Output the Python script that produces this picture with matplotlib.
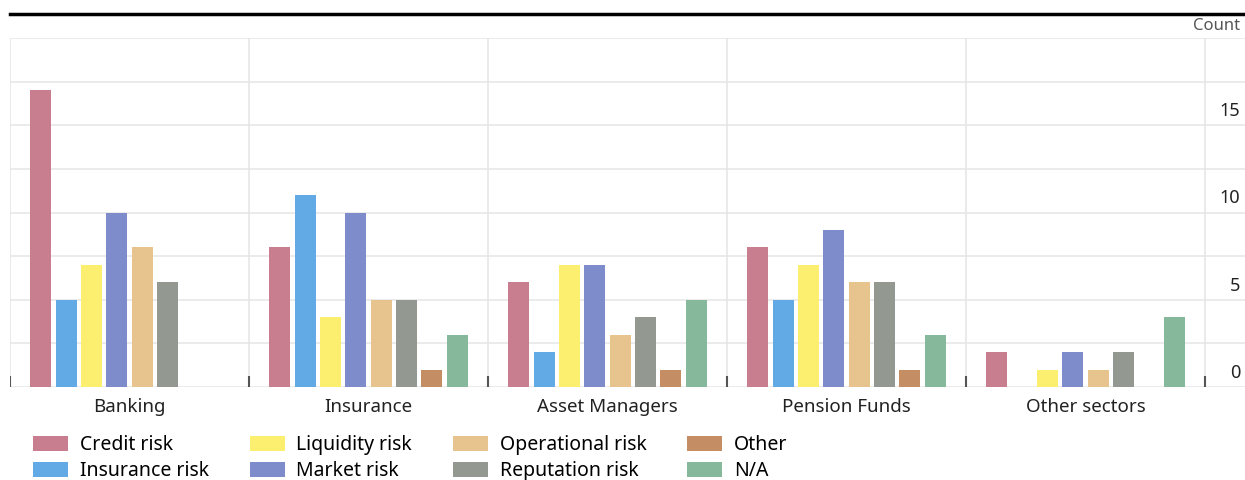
import numpy as np
import matplotlib.pyplot as plt
from matplotlib.transforms import blended_transform_factory

plt.rcParams['font.family'] = ['Noto Sans', 'DejaVu Sans']

sectors = ['Banking', 'Insurance', 'Asset Managers', 'Pension Funds', 'Other sectors']
series = ['Credit risk', 'Insurance risk', 'Liquidity risk', 'Market risk',
          'Operational risk', 'Reputation risk', 'Other', 'N/A']

credit = [17, 8, 6, 8, 2]
insurance = [5, 11, 2, 5, 0]
liquidity = [7, 4, 7, 7, 1]
market = [10, 10, 7, 9, 2]
operational = [8, 5, 3, 6, 1]
reputation = [6, 5, 4, 6, 2]
other = [0, 1, 1, 1, 0]
na = [0, 3, 5, 3, 4]

yticks = [0, 5, 10, 15]

colors = ['#c97e8f', '#62aae6', '#fcee6e', '#7f8ccc',
          '#e7c38e', '#939990', '#c48d64', '#86b99b']

values = [credit, insurance, liquidity, market, operational, reputation, other, na]

fig = plt.figure(figsize=(12.45, 4.8), dpi=100)
ax = fig.add_axes([10/1245, 1 - 387/480, 1 - 10/1245, (387 - 38)/480])

x = np.arange(len(sectors))
pitch = 0.106
width = 0.088
for i, (name, vals) in enumerate(zip(series, values)):
    off = (i - 3.5) * pitch
    ax.bar(x + off, vals, width, color=colors[i], label=name, zorder=3)

ax.set_xlim(-0.5, 4.5 + 40/239)
ax.set_ylim(0, 20)

# light gridlines every 2.5
for g in np.arange(0, 20.01, 2.5):
    ax.axhline(g, color='#e8e8e8', lw=1.2, zorder=1)
for b in np.arange(-0.5, 4.6, 1):
    ax.axvline(b, color='#e6e6e6', lw=1.2, zorder=1)
    ax.plot([b, b], [0, 0.65], color='#555555', lw=1.5, zorder=2, solid_capstyle='butt')

for s in ax.spines.values():
    s.set_visible(False)
ax.set_xticks([])
ax.set_yticks([])

# category labels
for xi, name in zip(x, sectors):
    ax.text(xi, -0.65, name, ha='center', va='top', fontsize=13.5, color='#222222')

# y labels on right, above gridlines
tr = blended_transform_factory(ax.transAxes, ax.transData)
for t in yticks:
    ax.text(0.996, t + 0.3, str(t), transform=tr, ha='right', va='bottom',
            fontsize=13, color='#222222')

fig.text(0.996, 1 - 26/480, 'Count', ha='right', va='center', fontsize=12, color='#555555')

# black rule at top
fig.add_artist(plt.Line2D([10/1245, 1], [1 - 14/480, 1 - 14/480], color='black', lw=2.5))

handles, labels = ax.get_legend_handles_labels()
fig.legend(handles, labels, loc='upper left', bbox_to_anchor=(33/1245, 1 - 435/480),
           ncol=4, frameon=False, fontsize=14, handlelength=1.8, handleheight=0.8,
           handletextpad=0.6, columnspacing=2.1, labelspacing=0.3, borderpad=0,
           borderaxespad=0)

fig.savefig('out.png', dpi=100)
